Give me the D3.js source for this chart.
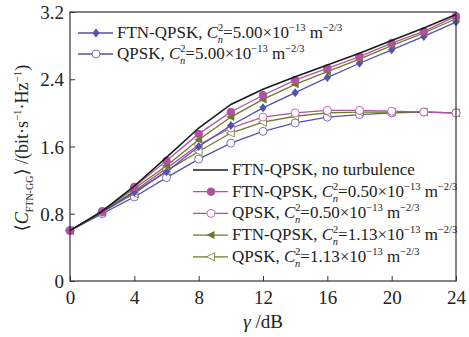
<!DOCTYPE html>
<html><head><meta charset="utf-8">
<script src="https://cdn.jsdelivr.net/npm/d3@7"></script>
<style>body{margin:0;background:#fff}svg{display:block}text{font-family:"Liberation Serif","DejaVu Serif",serif}</style>
</head><body><svg id="c" width="469" height="337"></svg>
<script>
const snr = [0,2,4,6,8,10,12,14,16,18,20,22,24];
const xTicks = [0,4,8,12,16,20,24];
const yTicks = [0,0.8,1.6,2.4,3.2];
const yTickLabels = ["0","0.8","1.6","2.4","3.2"];
const ftnNoTurb   = [0.60,0.83,1.13,1.47,1.82,2.10,2.28,2.43,2.57,2.71,2.86,3.01,3.17];
const ftn050      = [0.60,0.83,1.12,1.43,1.75,2.01,2.21,2.39,2.53,2.67,2.83,2.97,3.15];
const qpsk050     = [0.60,0.82,1.07,1.34,1.62,1.82,1.95,2.00,2.03,2.03,2.02,2.01,2.00];
const ftn113      = [0.60,0.83,1.10,1.37,1.68,1.95,2.16,2.34,2.49,2.64,2.80,2.95,3.12];
const qpsk113     = [0.60,0.82,1.04,1.31,1.54,1.76,1.89,1.96,2.00,2.01,2.01,2.01,2.00];
const ftn500      = [0.60,0.82,1.06,1.30,1.60,1.85,2.06,2.24,2.42,2.59,2.75,2.91,3.08];
const qpsk500     = [0.60,0.80,1.00,1.23,1.45,1.64,1.78,1.88,1.95,1.98,2.00,2.01,2.00];

const BLUE="#5552ad", MAG="#b0529f", GREEN="#6c7a28", BLACK="#1a1a1a";
const series = [
  {v:qpsk500,c:BLUE,m:"circleO"},
  {v:qpsk113,c:GREEN,m:"triO"},
  {v:qpsk050,c:MAG,m:"circleO"},
  {v:ftn500,c:BLUE,m:"diamond"},
  {v:ftn113,c:GREEN,m:"tri"},
  {v:ftn050,c:MAG,m:"circle"},
  {v:ftnNoTurb,c:BLACK,m:null}
];

const svg=d3.select("#c");
const L=70,R=456,T=12,B=281;
const x=d3.scaleLinear().domain([0,24]).range([L,R]);
const y=d3.scaleLinear().domain([0,3.2]).range([B,T]);

function marker(g,type,color,cx,cy){
  if(!type)return;
  if(type==="circle"){g.append("circle").attr("cx",cx).attr("cy",cy).attr("r",3.8).attr("fill",color).attr("stroke",color);}
  else if(type==="circleO"){g.append("circle").attr("cx",cx).attr("cy",cy).attr("r",4).attr("fill","#fff").attr("stroke",color).attr("stroke-width",0.8);}
  else if(type==="diamond"){g.append("path").attr("transform",`translate(${cx},${cy})`).attr("d","M0,-4.5L3.6,0L0,4.5L-3.6,0Z").attr("fill",color);}
  else if(type==="tri"){g.append("path").attr("transform",`translate(${cx},${cy})`).attr("d","M-4.5,0L3.5,-4L3.5,4Z").attr("fill",color);}
  else if(type==="triO"){g.append("path").attr("transform",`translate(${cx},${cy})`).attr("d","M-4.5,0L3.5,-4L3.5,4Z").attr("fill","#fff").attr("stroke",color).attr("stroke-width",0.8);}
}

// axes
const xa=svg.append("g").attr("transform",`translate(0,${B})`).call(d3.axisBottom(x).tickValues(xTicks).tickSizeInner(-5).tickSizeOuter(0).tickPadding(10));
const ya=svg.append("g").attr("transform",`translate(${L},0)`).call(d3.axisLeft(y).tickValues(yTicks).tickFormat((d,i)=>yTickLabels[i]).tickSizeInner(-5).tickSizeOuter(0).tickPadding(6));
[xa,ya].forEach(a=>{a.selectAll("text").attr("font-size",19).attr("fill","#222").style("font-family","Liberation Serif");a.selectAll("line").attr("stroke","#333");a.select(".domain").remove();});
ya.selectAll("text").attr("dy","0.35em");

// lines
const line=d3.line().x((d,i)=>x(snr[i])).y(d=>y(d));
const gl=svg.append("g");
series.forEach(s=>{
  gl.append("path").attr("d",line(s.v)).attr("fill","none").attr("stroke",s.c).attr("stroke-width",s.m?1.3:1.6);
  s.v.forEach((v,i)=>marker(gl,s.m,s.c,x(snr[i]),y(v)));
});

// frame
svg.append("rect").attr("x",L).attr("y",T).attr("width",R-L).attr("height",B-T).attr("fill","none").attr("stroke","#333").attr("stroke-width",1.2);

function cn2(t,pre,val){
  t.append("tspan").text(pre);
  t.append("tspan").attr("font-style","italic").text("C");
  t.append("tspan").attr("font-size",10.5).attr("dy",-7).text("2");
  t.append("tspan").attr("font-size",10.5).attr("font-style","italic").attr("dx",-5.5).attr("dy",12).text("n");
  t.append("tspan").attr("dy",-5).text("="+val+"\u00d710");
  t.append("tspan").attr("font-size",10.5).attr("dy",-7).text("\u221213");
  t.append("tspan").attr("dy",7).text(" m");
  t.append("tspan").attr("font-size",10.5).attr("dy",-7).text("\u22122/3");
}
const legTop=[{c:BLUE,m:"diamond",pre:"FTN-QPSK, ",val:"5.00"},{c:BLUE,m:"circleO",pre:"QPSK, ",val:"5.00"}];
legTop.forEach((d,i)=>{
  const yy=33+i*21;
  svg.append("line").attr("x1",78).attr("x2",113).attr("y1",yy).attr("y2",yy).attr("stroke",d.c).attr("stroke-width",1.3);
  marker(svg,d.m,d.c,96,yy);
  const t=svg.append("text").attr("x",117).attr("y",yy+5).attr("font-size",17).attr("fill","#222");
  cn2(t,d.pre,d.val);
});
const legBot=[{c:BLACK,m:null,pre:"FTN-QPSK, no turbulence"},{c:MAG,m:"circle",pre:"FTN-QPSK, ",val:"0.50"},{c:MAG,m:"circleO",pre:"QPSK, ",val:"0.50"},{c:GREEN,m:"tri",pre:"FTN-QPSK, ",val:"1.13"},{c:GREEN,m:"triO",pre:"QPSK, ",val:"1.13"}];
legBot.forEach((d,i)=>{
  const yy=170+i*21.7;
  svg.append("line").attr("x1",193).attr("x2",228).attr("y1",yy).attr("y2",yy).attr("stroke",d.c).attr("stroke-width",d.m?1.3:1.6);
  marker(svg,d.m,d.c,211,yy);
  const t=svg.append("text").attr("x",232).attr("y",yy+5).attr("font-size",17).attr("fill","#222");
  if(d.val) cn2(t,d.pre,d.val); else t.text(d.pre);
});

// axis titles
const xt=svg.append("text").attr("x",263).attr("y",328).attr("text-anchor","middle").attr("font-size",19).attr("fill","#222");
xt.append("tspan").attr("font-style","italic").text("\u03b3");
xt.append("tspan").text(" /dB");
const yt=svg.append("text").attr("transform","translate(28,148) rotate(-90)").attr("text-anchor","middle").attr("font-size",18).attr("fill","#222");
yt.append("tspan").text("\u27e8");
yt.append("tspan").attr("font-style","italic").text("C");
yt.append("tspan").attr("font-size",10).attr("dy",5).text("FTN-GG");
yt.append("tspan").attr("dy",-5).text("\u27e9 /(bit\u00b7s");
yt.append("tspan").attr("font-size",11).attr("dy",-7).text("\u22121");
yt.append("tspan").attr("dy",7).text("\u00b7Hz");
yt.append("tspan").attr("font-size",11).attr("dy",-7).text("\u22121");
yt.append("tspan").attr("dy",7).text(")");
</script></body></html>
